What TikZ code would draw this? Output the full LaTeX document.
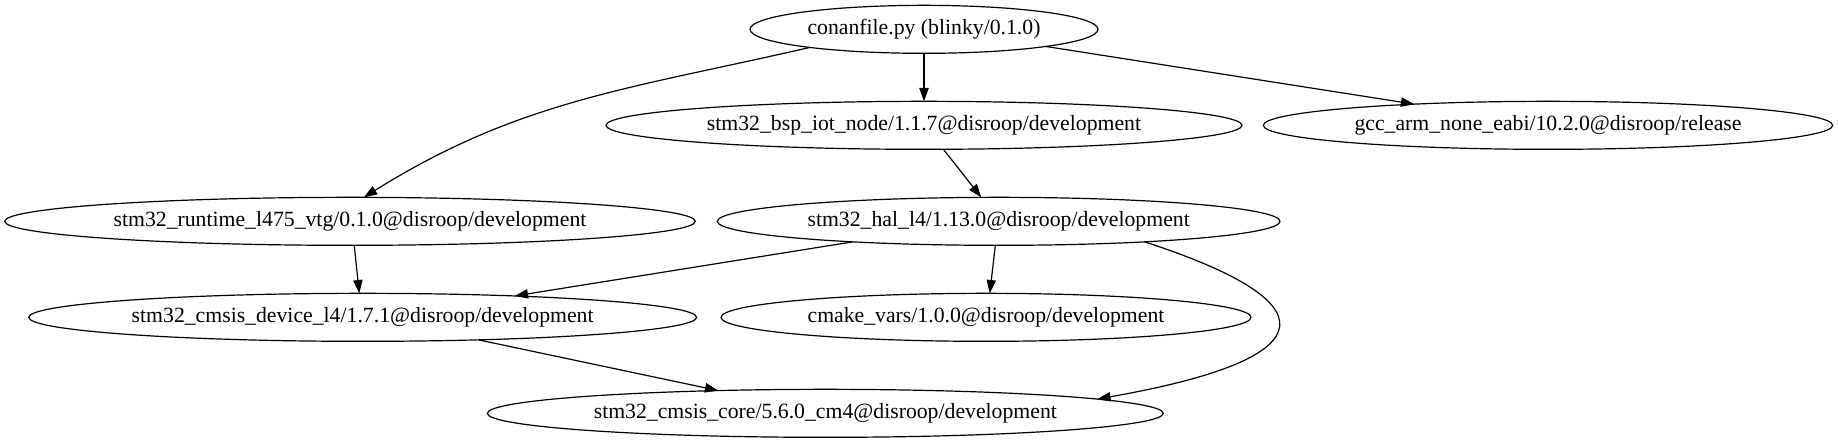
\documentclass[tikz,border=0pt]{standalone}
\usepackage{fontspec}
\setmainfont{Liberation Serif}
\usepackage{tikz}
\usetikzlibrary{positioning, arrows.meta, shapes.geometric}
\tikzset{
  pkg/.style = {ellipse, draw=black, line width=0.9pt, fill=white,
                inner sep=0pt, outer sep=0pt, minimum height=36pt,
                font=\fontsize{16.3}{18}\selectfont},
  ar/.style  = {-{Triangle[length=10pt,width=7pt]}, line width=0.9pt, draw=black},
}
\begin{document}
\begin{tikzpicture}[x=1pt, y=1pt]
  \useasboundingbox (0,0) rectangle (1378.5,332.25);

  \node[pkg, minimum width=261pt] (conan) at (693,310.25) {conanfile.py (blinky/0.1.0)};

  \node[pkg, minimum width=477pt] (bsp) at (693,238.25) {stm32\_bsp\_iot\_node/1.1.7@disroop/development};
  \node[pkg, minimum width=427pt] (gcc) at (1161,238.25) {gcc\_arm\_none\_eabi/10.2.0@disroop/release};

  \node[pkg, minimum width=518pt] (runtime) at (262.5,166.25) {stm32\_runtime\_l475\_vtg/0.1.0@disroop/development};
  \node[pkg, minimum width=422pt] (hal) at (749,166.25) {stm32\_hal\_l4/1.13.0@disroop/development};

  \node[pkg, minimum width=501pt] (device) at (272,94.25) {stm32\_cmsis\_device\_l4/1.7.1@disroop/development};
  \node[pkg, minimum width=397.5pt] (cmake) at (739.5,94.25) {cmake\_vars/1.0.0@disroop/development};

  \node[pkg, minimum width=507pt] (core) at (619,22.25) {stm32\_cmsis\_core/5.6.0\_cm4@disroop/development};

  \draw[ar] (conan.189) to[out=193, in=32] (runtime.60);
  \draw[ar] (conan.south) -- (bsp.north);
  \draw[ar] (conan.-8.5) -- (gcc.171);
  \draw[ar] (bsp.-51) -- (hal.126);
  \draw[ar] (runtime.-80.5) -- (device.98);
  \draw[ar] (hal.188.8) -- (device.8.7);
  \draw[ar] (hal.-98) -- (cmake.81);
  \draw[ar] (hal.-8) .. controls +(-18:142) and +(10:182) .. (core.3.3);
  \draw[ar] (device.-11.6) -- (core.168);

\end{tikzpicture}
\end{document}
